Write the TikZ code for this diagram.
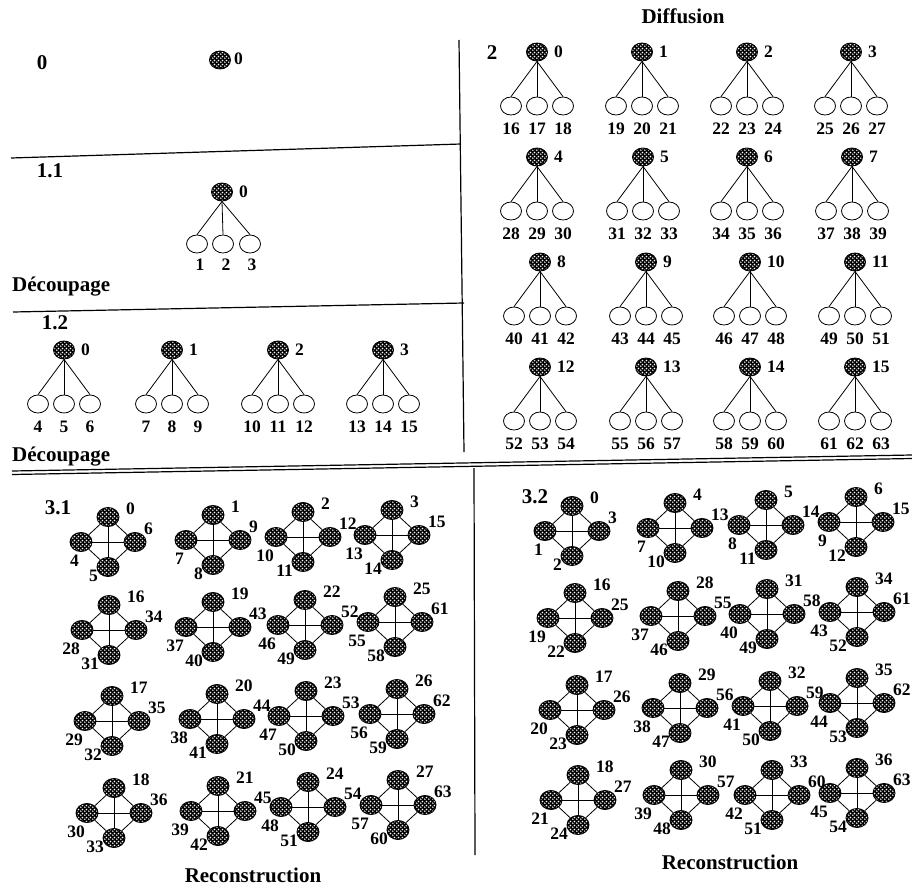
\documentclass[tikz,border=0pt]{standalone}
\usepackage{fontspec}
\setmainfont{Liberation Serif}
\usetikzlibrary{shapes.geometric,patterns}
\pgfdeclarepatternformonly{hdots}{\pgfpointorigin}{\pgfqpoint{4pt}{4pt}}{\pgfqpoint{4pt}{4pt}}{%
  \pgfpathcircle{\pgfqpoint{1pt}{1pt}}{0.95pt}%
  \pgfpathcircle{\pgfqpoint{3pt}{3pt}}{0.95pt}%
  \pgfusepath{fill}}
\tikzset{
  hn/.style={ellipse, draw=black, line width=0.9pt, minimum width=21pt, minimum height=18pt, inner sep=0pt,
    preaction={fill=black}, pattern=hdots, pattern color=white},
  on/.style={ellipse, draw=black, line width=0.8pt, fill=white, minimum width=21pt, minimum height=18pt, inner sep=0pt},
  lbl/.style={font=\fontsize{17.5}{17.5}\selectfont\bfseries, inner sep=1pt},
  hd/.style={font=\fontsize{21}{21}\selectfont\bfseries, inner sep=0pt},
  ln/.style={line width=0.8pt},
  sep/.style={line width=1.2pt},
}
% tree: name, x, y, root label, child labels
\newcommand\mytree[7]{%
  \node[hn] (#1r) at (#2,#3) {};
  \node[on] (#1a) at ({#2-26},{#3+54}) {};
  \node[on] (#1b) at (#2,{#3+54}) {};
  \node[on] (#1c) at ({#2+26},{#3+54}) {};
  \draw[ln] (#1r.south) -- (#1a.north);
  \draw[ln] (#1r.south) -- (#1b.north);
  \draw[ln] (#1r.south) -- (#1c.north);
  \node[lbl, anchor=west] (#1rl) at ({#2+16},#3) {#4};
  \node[lbl] (#1al) at ({#2-26},{#3+77}) {#5};
  \node[lbl] (#1bl) at (#2,{#3+77}) {#6};
  \node[lbl] (#1cl) at ({#2+26},{#3+77}) {#7};
}
% diamond: name, cx, cy, top, right, left, bottom labels
\newcommand\mydiam[7]{%
  \node[hn, minimum width=22pt, minimum height=19pt] (#1t) at (#2,{#3-25}) {};
  \node[hn, minimum width=22pt, minimum height=19pt] (#1b) at (#2,{#3+25}) {};
  \node[hn, minimum width=22pt, minimum height=19pt] (#1l) at ({#2-27},#3) {};
  \node[hn, minimum width=22pt, minimum height=19pt] (#1r) at ({#2+27},#3) {};
  \draw[ln] (#1t) -- (#1l);
  \draw[ln] (#1t) -- (#1r);
  \draw[ln] (#1l) -- (#1b);
  \draw[ln] (#1r) -- (#1b);
  \draw[ln] (#1t) -- (#1b);
  \draw[ln] (#1l) -- (#1r);
  \node[lbl, anchor=west] (#1tl) at ({#2+17},{#3-33}) {#4};
  \node[lbl, anchor=west] (#1rl) at ({#2+35},{#3-13}) {#5};
  \node[lbl, anchor=east] (#1ll) at ({#2-28},{#3+19}) {#6};
  \node[lbl, anchor=east] (#1bl) at ({#2-9},{#3+34}) {#7};
}
\begin{document}
\begin{tikzpicture}[x=1pt,y=-1pt]
\useasboundingbox (0,0) rectangle (912,891);
% separators
\coordinate (s1a) at (11,158); \coordinate (s1b) at (461,144);
\coordinate (s2a) at (13,312); \coordinate (s2b) at (464,303);
\coordinate (v1a) at (459,40); \coordinate (v1b) at (464,452);
\coordinate (d1a) at (12,471); \coordinate (d1b) at (912,455);
\coordinate (d2a) at (12,474.5); \coordinate (d2b) at (912,458.5);
\coordinate (v2a) at (474,468); \coordinate (v2b) at (475,855);
\draw[sep] (s1a) -- (s1b);
\draw[sep] (s2a) -- (s2b);
\draw[sep] (v1a) -- (v1b);
\draw[sep] (d1a) -- (d1b);
\draw[sep] (d2a) -- (d2b);
\draw[sep] (v2a) -- (v2b);
% headings
\node[hd] (h0) at (42,63) {0};
\node[hd] (h11) at (50,171) {1.1};
\node[hd, anchor=west] (dec1) at (12,287) {Découpage};
\node[hd] (h12) at (55,323) {1.2};
\node[hd, anchor=west] (dec2) at (12,457) {Découpage};
\node[hd] (diff) at (683,16) {Diffusion};
\node[hd] (h2) at (492,53) {2};
\node[hd] (h31) at (58,508) {3.1};
\node[hd] (h32) at (535,497) {3.2};
\node[hd] (rec1) at (253,875) {Reconstruction};
\node[hd] (rec2) at (730,862) {Reconstruction};
% level 0
\node[hn] (z0) at (220,60) {};
\node[lbl, anchor=west] (z0l) at (233,59) {0};
% level 1.1
\node[hn] (u0) at (222,192) {};
\node[on] (u1) at (197,244) {};
\node[on] (u2) at (223,244) {};
\node[on] (u3) at (250,244) {};
\draw[ln] (u0.south) -- (u1.north);
\draw[ln] (u0.south) -- (u2.north);
\draw[ln] (u0.south) -- (u3.north);
\node[lbl, anchor=west] (u0l) at (238,192) {0};
\node[lbl] (u1l) at (200,265) {1};
\node[lbl] (u2l) at (226,265) {2};
\node[lbl] (u3l) at (252,265) {3};
% level 1.2
\mytree{p0}{64}{350}{0}{4}{5}{6}
\mytree{p1}{172}{350}{1}{7}{8}{9}
\mytree{p2}{278}{350}{2}{10}{11}{12}
\mytree{p3}{383}{350}{3}{13}{14}{15}
% level 2
\mytree{q0}{537}{52}{0}{16}{17}{18}
\mytree{q1}{642}{52}{1}{19}{20}{21}
\mytree{q2}{747}{52}{2}{22}{23}{24}
\mytree{q3}{851}{52}{3}{25}{26}{27}
\mytree{q4}{537}{157}{4}{28}{29}{30}
\mytree{q5}{643}{157}{5}{31}{32}{33}
\mytree{q6}{747}{157}{6}{34}{35}{36}
\mytree{q7}{852}{157}{7}{37}{38}{39}
\mytree{q8}{540}{262}{8}{40}{41}{42}
\mytree{q9}{646}{262}{9}{43}{44}{45}
\mytree{q10}{750}{262}{10}{46}{47}{48}
\mytree{q11}{855}{262}{11}{49}{50}{51}
\mytree{q12}{540}{367}{12}{52}{53}{54}
\mytree{q13}{646}{367}{13}{55}{56}{57}
\mytree{q14}{750}{367}{14}{58}{59}{60}
\mytree{q15}{855}{367}{15}{61}{62}{63}
% level 3.1
\mydiam{a0}{108}{542}{0}{6}{4}{5}
\mydiam{a1}{213}{540}{1}{9}{7}{8}
\mydiam{a2}{303}{537}{2}{12}{10}{11}
\mydiam{a3}{392}{535}{3}{15}{13}{14}
\mydiam{a16}{109}{630}{16}{34}{28}{31}
\mydiam{a19}{213}{627}{19}{43}{37}{40}
\mydiam{a22}{305}{625}{22}{52}{46}{49}
\mydiam{a25}{395}{622}{25}{61}{55}{58}
\mydiam{a17}{112}{721}{17}{35}{29}{32}
\mydiam{a20}{217}{719}{20}{44}{38}{41}
\mydiam{a23}{306}{716}{23}{53}{47}{50}
\mydiam{a26}{397}{714}{26}{62}{56}{59}
\mydiam{a18}{114}{813}{18}{36}{30}{33}
\mydiam{a21}{218}{811}{21}{45}{39}{42}
\mydiam{a24}{308}{807}{24}{54}{48}{51}
\mydiam{a27}{398}{805}{27}{63}{57}{60}
% level 3.2
\mydiam{b0}{572}{531}{0}{3}{1}{2}
\mydiam{b4}{675}{528}{4}{13}{7}{10}
\mydiam{b5}{766}{525}{5}{14}{8}{11}
\mydiam{b6}{856}{522}{6}{15}{9}{12}
\mydiam{b16}{575}{618}{16}{25}{19}{22}
\mydiam{b28}{678}{616}{28}{55}{37}{46}
\mydiam{b31}{767}{614}{31}{58}{40}{49}
\mydiam{b34}{857}{612}{34}{61}{43}{52}
\mydiam{b17}{577}{710}{17}{26}{20}{23}
\mydiam{b29}{680}{708}{29}{56}{38}{47}
\mydiam{b32}{770}{706}{32}{59}{41}{50}
\mydiam{b35}{857}{703}{35}{62}{44}{53}
\mydiam{b18}{578}{800}{18}{27}{21}{24}
\mydiam{b30}{681}{795}{30}{57}{39}{48}
\mydiam{b33}{772}{795}{33}{60}{42}{51}
\mydiam{b36}{857}{793}{36}{63}{45}{54}
\end{tikzpicture}
\end{document}
